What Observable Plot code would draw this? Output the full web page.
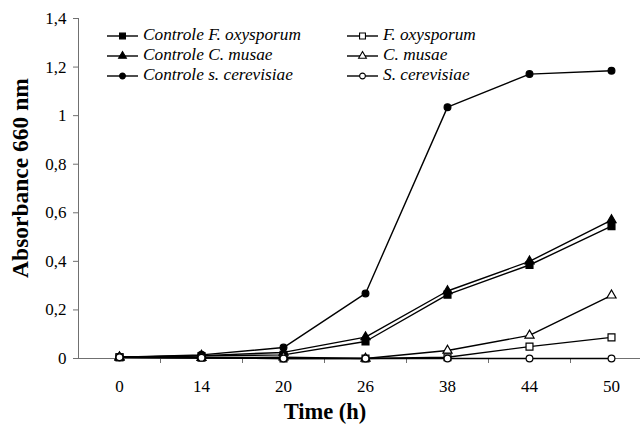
<!DOCTYPE html>
<html>
<head>
<meta charset="utf-8">
<script src="https://cdn.jsdelivr.net/npm/d3@7"></script>
<script src="https://cdn.jsdelivr.net/npm/@observablehq/plot@0.6"></script>
<style>
  html, body { margin: 0; padding: 0; background: #fff; overflow: hidden; }
  #wrap { position: relative; width: 640px; height: 427px; font-family: 'Times New Roman', serif; }
  .ttl { position: absolute; font-weight: bold; font-size: 22.5px; white-space: nowrap; color: #000; font-family: 'Times New Roman', serif; }
  .leg { position: absolute; height: 20px; line-height: 20px; white-space: nowrap; font-style: italic; font-size: 17.3px; color: #000; font-family: 'Times New Roman', serif; }
  .sym { position: absolute; }
</style>
</head>
<body>
<div id="wrap"></div>
<script>
// ---- data ----
const times = ["0", "14", "20", "26", "38", "44", "50"];
const yTicks = [0, 0.2, 0.4, 0.6, 0.8, 1, 1.2, 1.4];
const seriesNames = ["Controle F. oxysporum", "Controle C. musae", "Controle s. cerevisiae", "F. oxysporum", "C. musae", "S. cerevisiae"];
const ctrlFox = [0.005, 0.010, 0.015, 0.070, 0.263, 0.385, 0.545];
const ctrlCmu = [0.005, 0.012, 0.025, 0.088, 0.278, 0.400, 0.570];
const ctrlSce = [0.005, 0.015, 0.045, 0.268, 1.035, 1.171, 1.185];
const fox     = [0.005, 0.003, 0.000, 0.000, 0.005, 0.049, 0.087];
const cmu     = [0.005, 0.003, 0.005, 0.000, 0.033, 0.095, 0.260];
const sce     = [0.005, 0.003, 0.000, 0.000, 0.000, 0.000, 0.000];
const seriesValues = [ctrlFox, ctrlCmu, ctrlSce, fox, cmu, sce];
const seriesSymbols = ["square", "triangle", "circle", "square", "triangle", "circle"];
const seriesFills = ["black", "black", "black", "white", "white", "white"];
const seriesR = {square: 3.9, triangle: 3.4, circle: 3.4};

const FONT = "'Times New Roman', serif";
const idx = times.map((t, i) => i);
const series = seriesNames.map((name, k) => ({
  name, symbol: seriesSymbols[k], fill: seriesFills[k],
  rows: seriesValues[k].map((v, i) => ({series: name, i, v}))
}));

const marks = [
  Plot.ruleY([0], {stroke: "#707070"}),
  Plot.ruleX([-0.5], {stroke: "#707070"}),
  Plot.axisY({ticks: yTicks, tickFormat: d => String(d).replace(".", ","), tickSize: 5, tickPadding: 7,
              fontSize: 17, fontFamily: FONT, stroke: "#707070", fill: "black", label: null}),
  Plot.axisX({ticks: idx, tickFormat: i => times[i], tickSize: 0, tickPadding: 21,
              fontSize: 17, fontFamily: FONT, fill: "black", label: null}),
  Plot.axisX({ticks: idx.map(i => i + 0.5), tickFormat: () => "", tickSize: 5, stroke: "#707070", label: null}),
];
for (const s of series) {
  marks.push(Plot.line(s.rows, {x: "i", y: "v", stroke: "black", strokeWidth: 1.4}));
}
for (const s of series) {
  marks.push(Plot.dot(s.rows, {x: "i", y: "v", symbol: s.symbol, r: seriesR[s.symbol], fill: s.fill, stroke: "black", strokeWidth: 1.2}));
}

const chart = Plot.plot({
  width: 640,
  height: 427,
  marginLeft: 78,
  marginRight: 0,
  marginTop: 18,
  marginBottom: 69,
  style: {fontFamily: FONT, fontSize: "17px", color: "black", background: "white", overflow: "hidden"},
  x: {type: "linear", domain: [-0.5, 6.5], range: [78, 652]},
  y: {domain: [0, 1.4]},
  marks
});
chart.style.position = "absolute";
chart.style.left = "0px";
chart.style.top = "0px";

const wrap = document.getElementById("wrap");
wrap.appendChild(chart);

function addDiv(cls, text, css) {
  const d = document.createElement("div");
  d.className = cls;
  d.textContent = text;
  Object.assign(d.style, css);
  wrap.appendChild(d);
  return d;
}

// axis titles
addDiv("ttl", "Time (h)", {left: "325px", top: "412px", transform: "translate(-50%, -50%)"});
addDiv("ttl", "Absorbance 660 nm", {fontSize: "23.5px", left: "20px", top: "178px",
  transform: "translate(-50%, -50%) rotate(-90deg)"});

// legend
const legPos = [[107, 25], [107, 45], [107, 65], [347, 25], [347, 45], [347, 65]];
series.forEach((s, k) => {
  const [lx, ly] = legPos[k];
  const svg = d3.create("svg").attr("class", "sym").attr("width", 32).attr("height", 12)
    .style("left", lx + "px").style("top", (ly + 5) + "px");
  svg.append("line").attr("x1", 0).attr("x2", 31).attr("y1", 6).attr("y2", 6).attr("stroke", "black").attr("stroke-width", 1.4);
  const sym = s.symbol === "square" ? d3.symbolSquare : s.symbol === "triangle" ? d3.symbolTriangle : d3.symbolCircle;
  const r = seriesR[s.symbol] * 0.85;
  svg.append("path").attr("transform", "translate(15.5,6)")
     .attr("d", d3.symbol(sym, r * r * Math.PI)())
     .attr("fill", s.fill).attr("stroke", "black").attr("stroke-width", 1.1);
  wrap.appendChild(svg.node());
  addDiv("leg", s.name, {left: (lx + 36) + "px", top: ly + "px"});
});
</script>
</body>
</html>
